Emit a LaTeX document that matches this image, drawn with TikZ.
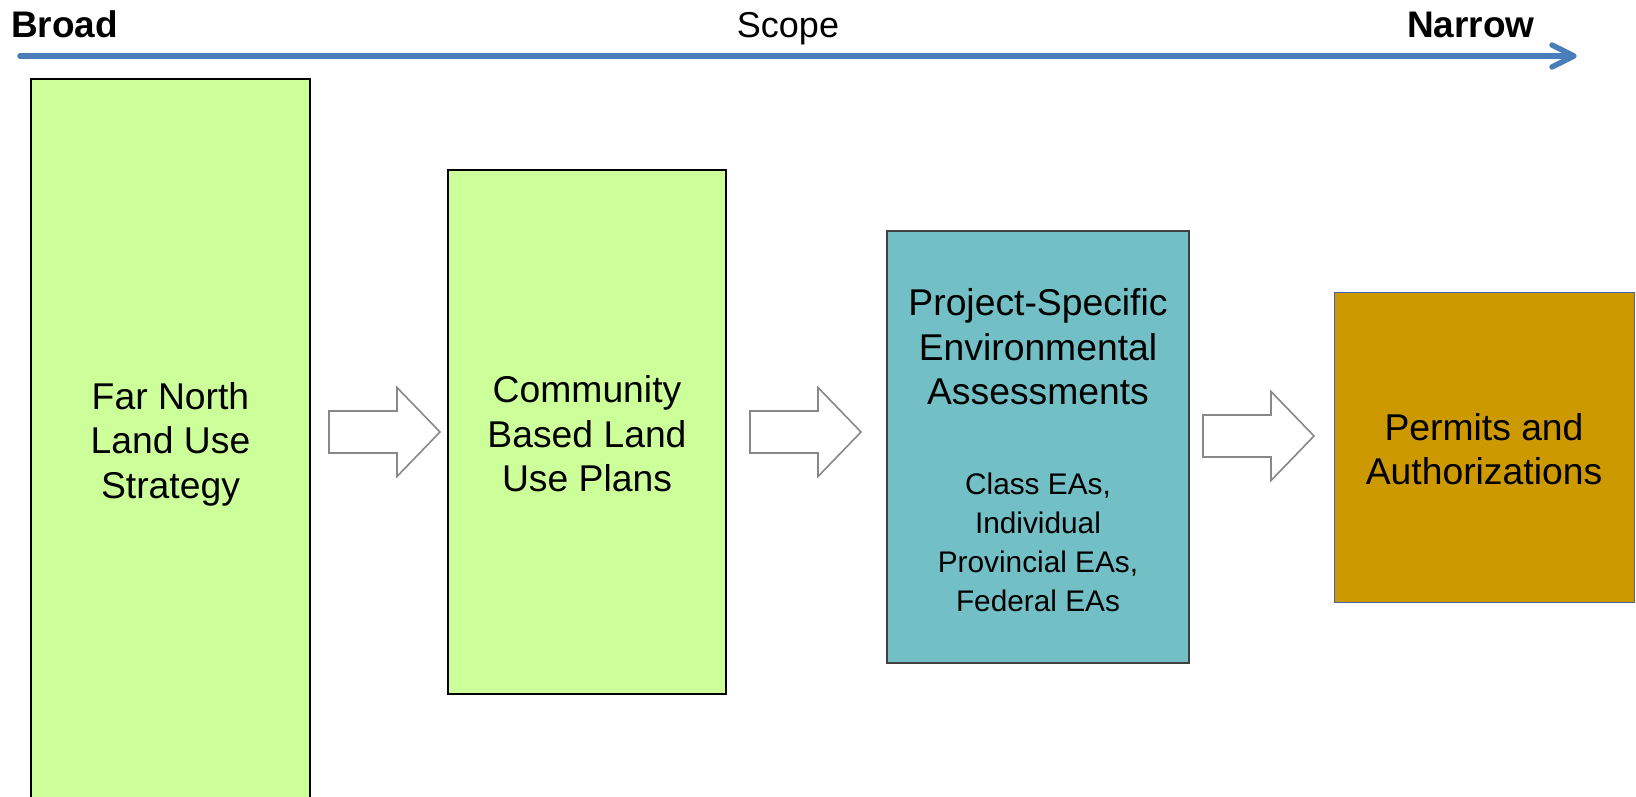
\documentclass[tikz,border=0pt]{standalone}
\usepackage{fontspec}
\setmainfont{Liberation Sans}
\definecolor{scopeblue}{RGB}{74,126,187}
\definecolor{lgreen}{RGB}{204,255,153}
\definecolor{teal}{RGB}{114,191,197}
\definecolor{gold}{RGB}{204,153,0}
\definecolor{goldborder}{RGB}{70,100,160}
\definecolor{arrgray}{RGB}{136,136,136}
\tikzset{
  box/.style={draw=black, line width=1.2pt, rectangle, inner sep=0pt},
  bigtext/.style={inner sep=0pt, align=center, font=\fontsize{37.3}{44.5}\selectfont},
  smalltext/.style={inner sep=0pt, align=center, font=\fontsize{29.8}{39}\selectfont},
  toplabel/.style={inner sep=0pt, font=\fontsize{36}{40}\selectfont},
  boldlabel/.style={inner sep=0pt, font=\fontsize{37}{40}\selectfont\bfseries},
  blockarrow/.pic={\draw[draw=arrgray, fill=white, line width=1.6pt, line join=miter]
     (0,-21) -- (68,-21) -- (68,-44.5) -- (111,0) -- (68,44.5) -- (68,21) -- (0,21) -- cycle;}
}
\begin{document}
\begin{tikzpicture}[x=1pt,y=-1pt]
\useasboundingbox (0,0) rectangle (1636,796);
% scope arrow
\coordinate (scopeL) at (20,56);
\coordinate (scopeR) at (1574,56);
\draw[scopeblue, line width=5.5pt, line cap=round] (scopeL) -- ([xshift=-2pt]scopeR);
\draw[scopeblue, line width=5.5pt, line cap=round, line join=round]
  ([xshift=-22pt,yshift=11pt]scopeR) -- (scopeR) -- ([xshift=-22pt,yshift=-11pt]scopeR);
\node[boldlabel, anchor=base west] (broad) at (11,37) {Broad};
\node[toplabel, anchor=base] (scope) at (788,37) {Scope};
\node[boldlabel, anchor=base west] (narrow) at (1407,37) {Narrow};
% boxes
\node[box, fill=lgreen, minimum width=279pt, minimum height=722pt] (b1) at (170.5,440) {};
\node[bigtext] (t1) at (170.5,444) {Far North\\Land Use\\Strategy};
\node[box, fill=lgreen, minimum width=278pt, minimum height=524pt] (b2) at (587,432) {};
\node[bigtext] (t2) at (587,434) {Community\\Based Land\\Use Plans};
\node[box, draw=black!75, fill=teal, minimum width=302pt, minimum height=432pt] (b3) at (1038,447) {};
\node[bigtext] (t3) at (1038,347) {Project-Specific\\Environmental\\Assessments};
\node[smalltext] (t3b) at (1038,542) {Class EAs,\\Individual\\Provincial EAs,\\Federal EAs};
\node[box, draw=goldborder, line width=1pt, fill=gold, minimum width=300pt, minimum height=310pt] (b4) at (1484,447) {};
\node[bigtext] (t4) at (1484,449) {Permits and\\Authorizations};
% block arrows
\pic at (329,432) {blockarrow};
\pic at (750,432) {blockarrow};
\pic at (1203,436) {blockarrow};
\end{tikzpicture}
\end{document}
